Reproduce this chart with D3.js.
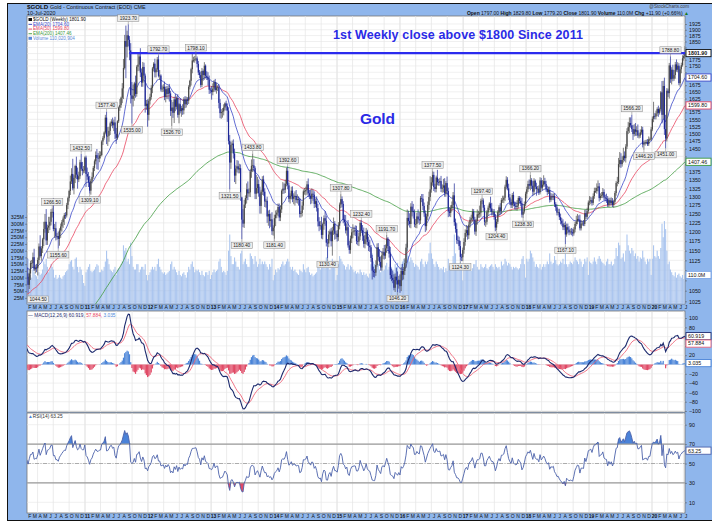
<!DOCTYPE html>
<html>
<head>
<meta charset="utf-8">
<script src="https://cdn.jsdelivr.net/npm/d3@7"></script>
<style>
  body { margin: 0; background: #fff; }
  svg text { font-family: "Liberation Sans", Arial, sans-serif; }
  .tick line { stroke: #555; }
  .domain { display: none; }
</style>
</head>
<body>
<div id="chart"></div>
<script>
const svgWidth = 712;
const svgHeight = 529;

// ---- data: weekly $GOLD, week ending Friday, starting 29 Jan 2010 ----
const firstWeek = new Date(2010, 0, 29);
const firstOpen = 1105;

// weekly closes
const closes = [
  // 2010
  1084,1064,1092,1118,1118, 1133,1102,1106,1105, 1126,1161,1136,1156,1180, 1208,1228,1177,1212, 1217,1228,1256,1256,
  1208,1210,1189,1189,1181, 1204,1215,1227,1237, 1247,1246,1276,1296, 1317,1346,1369,1325,1357, 1394,1367,1352,1362, 1406,1385,1379,1380,1421,
  // 2011
  1369,1361,1343,1318, 1348,1360,1388,1409, 1429,1420,1418,1428, 1429,1474,1486,1504,1556, 1491,1493,1510,1536, 1542,1529,1539,1500,
  1486,1543,1592,1601,1628, 1663,1742,1852,1828, 1876,1857,1813,1637,1624, 1635,1682,1642,1747, 1755,1788,1724,1685, 1746,1712,1598,1606,1566,
  // 2012
  1617,1631,1665,1740, 1759,1725,1736,1776, 1711,1712,1659,1662,1669, 1631,1660,1642,1664, 1644,1580,1592,1573, 1622,1595,1627,1566,1604,
  1579,1590,1582,1622, 1604,1622,1617,1669,1692, 1737,1772,1773,1776, 1780,1758,1724,1714, 1676,1730,1714,1751,1711, 1705,1696,1658,1656,
  // 2013
  1649,1662,1687,1657, 1667,1667,1609,1572, 1576,1578,1592,1607,1597, 1581,1476,1405,1462, 1467,1434,1364,1386,1393, 1383,1387,1298,1234,
  1223,1277,1296,1322, 1310,1313,1377,1395,1396, 1387,1309,1326,1338, 1310,1273,1315,1352, 1315,1286,1288,1243,1250, 1230,1235,1202,1212,
  // 2014
  1238,1248,1254,1270,1240, 1263,1318,1324,1321, 1339,1379,1334,1294, 1302,1318,1294,1300, 1302,1290,1293,1292,1250, 1253,1274,1316,1316,
  1320,1337,1310,1303, 1294,1309,1306,1279,1287, 1267,1229,1216,1218, 1192,1222,1238,1231,1171, 1169,1193,1201,1175, 1204,1222,1195,1195,
  // 2015
  1186,1217,1277,1293,1279, 1234,1227,1204,1213, 1164,1152,1182,1199, 1201,1204,1203,1175, 1174,1188,1225,1205,1190, 1168,1180,1201,1173,
  1163,1159,1131,1099,1095, 1094,1113,1159,1134, 1121,1107,1138,1145, 1137,1156,1182,1162,1142, 1088,1081,1076,1057, 1084,1075,1065,1076,
  // 2016
  1061,1098,1089,1098,1118, 1158,1239,1230,1222, 1271,1259,1255,1221, 1222,1243,1235,1232,1296, 1294,1273,1252,1216, 1243,1276,1299,1322,
  1343,1366,1329,1323,1358, 1344,1343,1347,1324, 1327,1334,1310,1341,1317, 1257,1253,1267,1276, 1304,1227,1208,1178, 1177,1162,1134,1133,1152,
  // 2017
  1173,1197,1205,1191, 1220,1234,1238,1257, 1234,1201,1230,1249,1249, 1254,1288,1289,1268, 1228,1228,1255,1268, 1280,1266,1256,1256,1242,
  1212,1228,1255,1269, 1258,1290,1291,1297, 1330,1351,1325,1298,1284, 1275,1305,1280,1273, 1270,1274,1296,1288, 1280,1248,1257,1278,1309,
  // 2018
  1322,1338,1333,1350, 1333,1315,1348,1330, 1323,1324,1313,1349,1327, 1336,1347,1338,1323, 1314,1320,1291,1301, 1298,1302,1278,1269,1254,
  1255,1241,1231,1223, 1213,1219,1193,1213,1206, 1199,1201,1199,1196, 1207,1222,1229,1236, 1234,1210,1223,1223,1222, 1252,1242,1258,1283,
  // 2019
  1286,1290,1282,1302, 1317,1317,1326,1331, 1296,1302,1304,1314,1298, 1295,1294,1276,1289, 1281,1288,1276,1285,1311, 1341,1344,1400,1413,
  1400,1413,1427,1419, 1457,1509,1523,1537,1529, 1516,1499,1515,1507, 1512,1494,1494,1505, 1514,1464,1468,1471,1472, 1465,1481,1481,1515,
  // 2020
  1552,1562,1560,1571,1587, 1573,1586,1648,1566, 1672,1516,1484,1654, 1645,1752,1698,1735, 1700,1714,1756,1735,1751, 1683,1737,1753,1781,
  1790,1801.9
];

// wick above the candle body ($)
const upperWick = [
  26,8,10,6,8, 12,22,8,10, 6,8,30,6,4, 20,22,36,8, 25,14,8,10,
  40,12,18,8,12, 6,8,6,6, 6,8,6,4, 4,18,18,48,8, 4,30,22,14, 8,27,22,14,4,
  6,20,14,20, 6,14,6,6, 12,20,16,14, 12,4,6,4,10, 21,30,14,6, 8,14,10,20,
  20,4,4,22,4, 20,36,26,66, 20,48,16,30,50, 42,6,30,6, 50,14,34,16, 20,17,8,14,16,
  8,12,10,6, 6,20,6,10, 17,22,5,12,10, 20,10,12,8, 16,10,28,20, 10,20,6,14,4,
  22,8,14,8, 12,10,8,6,4, 6,26,14,14, 18,8,12,10, 14,12,6,14,5, 18,20,16,8,
  16,20,8,12, 18,8,12,14, 10,12,12,4,10, 10,12,20,10, 10,14,16,10,20, 18,14,12,2,
  30,14,8,18, 24,12,8,20,38, 20,6,40,22, 14,20,6,10, 12,10,6,12,10, 12,16,20,6,
  10,12,8,10,10, 12,4,20,16, 12,10,14,8, 8,12,13,10, 14,18,14,8,4, 6,12,6,10,
  10,10,18,10, 18,16,12,10,8, 14,12,12,12, 24,4,8,20,14, 10,10,6,10, 10,18,8,8,
  10,10,6,15,8, 8,14,20,10, 20,12,8,10, 20,10,14,14, 30,10,6,7,14, 22,12,10,5,
  14,16,6,8,10, 8,12,10,11, 20,14,10,12, 20,10,10,4,18, 18,16,18,14, 8,22,22,10,
  14,10,18,10,12, 10,24,20,22, 10,16,20,8, 14,10,20,20,6, 12,14,10,8, 8,10,16,40,
  16,12,10,10,6, 24,10,10,16, 10,20,22,6,20, 10,12,8,10, 10,36,10,16, 12,10,14,8,6,
  10,10,14,12, 8,8,10,8, 7,8,6,14,10, 20,6,8,6, 8,6,6,6, 4,20,16,8,8,
  8,8,6,6, 12,6,12,6, 6,11,8,14,10, 8,6,10,6, 12,16,6,6, 12,16,6,8,6,
  8,10,14,16, 6,14,8,4, 12,8,10,10,8, 14,18,10,10, 10,10,10,10, 8,8,8,6,8,
  10,10,10,8, 12,6,10,10,10, 10,8,10,10, 6,6,16,14, 10,14,10,8,10, 10,10,10,6,
  16,10,8,8, 10,10,14,18, 10,8,10,12,8, 8,14,8,8, 8,10,8,6,6, 6,16,20,26,
  22,12,26,14, 8,10,18,20,20, 38,14,18,22, 14,20,8,10, 12,10,8,8,8, 10,10,6,8,
  8,51,10,10,6, 12,6,5,43, 20,32,50,10, 8,10,37,10, 20,20,10,20,14, 10,10,10,12,
  10,28
];

// wick below the candle body ($)
const lowerWick = [
  6,20,10,16,12, 12,4,10,10, 18,10,4,12,12, 18,10,12,12, 15,12,10,16,
  6,24,12,10,26, 18,20,14,16, 18,10,6,12, 10,12,8,6,18, 16,14,28,8, 8,6,14,8,8,
  40,10,14,10, 12,8,6,10, 10,36,36,12, 10,4,12,6,6, 26,32,20,14, 10,10,20,18,
  20,6,6,12,10, 20,40,6,126, 44,28,40,30,89, 28,18,14,10, 18,24,18,16, 16,12,24,14,42,
  20,14,10,20, 12,20,20,10, 6,16,8,10,12, 12,20,18,20, 30,18,53,18, 36,16,10,10,30,
  8,20,16,14, 14,12,16,12,10, 18,16,8,10, 6,14,10,12, 10,8,22,18,10, 10,22,16,12,
  28,12,12,6, 14,14,20,18, 20,20,14,10,16, 40,12,84,20, 20,16,20,26,12, 12,12,10,54,
  10,12,10,16, 20,10,14,20,20, 10,16,16,16, 10,22,22,10, 12,16,18,18,26, 20,16,10,12,
  31,22,10,10,10, 10,10,10,12, 10,8,12,10, 14,10,10,16, 26,8,10,18,10, 10,10,12,10,
  12,14,10,10, 16,14,18,12,10, 10,14,14,10, 10,12,16,14,10, 39,10,16,14, 38,12,16,14,
  12,10,10,10,10, 10,10,8,14, 6,10,10,12, 16,10,14,8, 10,12,10,8,14, 10,12,14,10,
  14,12,10,22,12, 12,8,4,10, 10,8,8,10, 10,8,12,10,10, 10,8,8,6, 10,10,19,10,
  16,12,14,12,10, 12,10,12,10, 12,16,18,8, 10,12,10,12,10, 10,12,10,16, 12,10,14,12,
  10,10,12,10,10, 10,10,10,10, 12,14,10,10,10, 16,10,12,10, 10,10,10,10, 10,10,10,10,10,
  10,10,10,12, 10,8,10,10, 10,8,12,10,10, 10,12,10,10, 10,14,8,10, 8,10,10,10,8,
  10,8,6,10, 10,8,8,10, 10,8,6,8,8, 8,8,8,10, 8,10,8,8, 8,8,10,6,6,
  14,8,10,14, 10,12,10,8, 20,10,8,6,6, 8,6,8,8, 10,6,8,6, 8,8,8,10,8,
  8,8,10,6, 8,8,26,6,10, 8,6,8,8, 6,8,6,8, 6,6,6,6,6, 6,6,6,6,
  8,8,8,6, 8,6,8,10, 10,6,6,8,8, 8,12,6,6, 6,6,6,8,6, 8,10,6,10,
  12,8,8,10, 14,8,10,20,8, 10,20,8,14, 14,8,10,8, 8,10,18,8,6, 6,6,6,4,
  6,12,10,10,10, 14,6,8,30, 16,20,33,10, 14,20,14,20, 10,8,14,8,10, 8,14,16,6,
  10,11
];

// weekly volume (millions)
const volumeM = [
  150,170,120,110,100, 130,120,110,105, 95,120,110,115,130, 160,150,170,140, 120,130,150,140,
  130,100,110,95,100, 110,100,95,105, 110,120,125,130, 150,160,165,140,130, 170,175,140,120, 140,130,110,80,70,
  120,130,140,150, 125,120,125,130, 140,150,145,120, 120,130,125,140,160, 200,170,150,130, 125,120,130,140,
  110,130,135,140,150, 160,220,200,210, 160,170,150,230,180, 140,130,130,150, 150,120,130,140, 140,130,150,110,90,
  110,120,130,140, 130,140,125,150, 170,140,130,120,115, 120,110,115,120, 125,150,160,130, 140,130,120,110,125,
  110,105,115,120, 110,100,120,140,130, 150,160,140,120, 130,125,130,120, 110,125,110,105,120, 120,110,125,95,
  110,120,130,120, 125,130,160,170, 140,120,125,120,110, 125,200,260,180, 150,150,175,160,140, 140,130,190,200,
  150,160,170,150, 140,140,190,180,170, 150,180,160,140, 150,170,150,160, 150,160,150,140,130, 150,140,170,90,
  110,130,120,135,130, 140,150,160,145, 150,160,170,160, 140,130,140,125, 130,120,115,110,130, 125,120,150,130,
  120,135,140,120, 110,115,105,110,115, 120,150,140,130, 160,155,140,135,175, 210,150,130,150, 170,150,145,90,
  110,150,180,170,160, 150,145,130,140, 150,130,145,140, 130,120,125,115, 120,115,130,120,110, 120,110,115,105,
  100,115,150,190,160, 150,145,160,150, 130,120,140,125, 130,145,155,130,140, 150,140,130,120, 150,140,155,95,
  110,150,160,170,165, 190,230,180,160, 175,165,155,140, 150,145,140,130,160, 170,150,140,160, 150,160,190,230,
  190,170,150,140,160, 150,140,130,135, 130,140,120,135,125, 170,145,140,130, 180,260,190,150, 140,150,160,130,90,
  140,150,135,130, 140,130,125,135, 150,150,165,140,130, 130,150,140,135, 140,150,135,130, 140,145,150,140,130,
  150,140,135,140, 130,160,145,150, 170,160,145,155,150, 140,130,140,135, 140,135,130,135, 150,170,180,150,100,
  170,160,170,200, 190,175,160,140, 150,140,135,150,130, 140,150,140,150, 160,150,190,160, 150,155,180,165,150,
  145,150,160,155, 170,150,210,150,140, 150,160,155,150, 160,175,165,160, 150,170,160,140,150, 170,160,175,110,
  160,155,150,160, 175,160,150,170, 180,170,160,155,150, 145,160,170,150, 150,160,145,150,170, 210,180,230,220,
  170,175,190,160, 200,260,220,200,190, 210,200,180,190, 170,180,160,175, 170,200,175,160,150, 170,160,170,110,
  170,220,180,175,200, 180,170,210,300, 250,310,280,200, 150,160,130,120, 110,105,120,100,110, 115,105,100,110,
  95,110
];

// swing-point price labels: week, value, above (h) or below (l)
const swingLabels = [
  ["2010-02-05", 1044.50, "l"], ["2010-06-25", 1266.50, "h"], ["2010-07-30", 1155.60, "l"],
  ["2010-12-10", 1432.50, "h"], ["2011-01-28", 1309.10, "l"], ["2011-05-06", 1577.40, "h"],
  ["2011-09-09", 1923.70, "h"], ["2011-09-30", 1535.00, "l"], ["2012-03-02", 1792.70, "h"],
  ["2012-05-18", 1526.70, "l"], ["2012-10-05", 1798.10, "h"], ["2013-04-19", 1321.50, "l"],
  ["2013-06-28", 1180.40, "l"], ["2013-08-30", 1433.80, "h"], ["2014-01-03", 1181.40, "l"],
  ["2014-03-21", 1392.60, "h"], ["2014-11-07", 1130.40, "l"], ["2015-01-23", 1307.80, "h"],
  ["2015-05-22", 1232.40, "h"], ["2015-10-16", 1191.70, "h"], ["2015-12-18", 1046.20, "l"],
  ["2016-07-08", 1377.50, "h"], ["2016-12-16", 1124.30, "l"], ["2017-04-21", 1297.40, "h"],
  ["2017-07-14", 1204.40, "l"], ["2017-12-15", 1238.30, "l"], ["2018-01-26", 1366.20, "h"],
  ["2018-08-17", 1167.10, "l"], ["2019-09-06", 1566.20, "h"], ["2019-11-15", 1446.20, "l"],
  ["2020-03-20", 1451.00, "l"], ["2020-04-17", 1788.80, "h"]
];

// indicator state carried in from before the first visible week
const emaSeed = {e20: 1110, e50: 1040, e200: 820, e12: 1118, e26: 1078, signal: 45};
const rsiSeed = {gain: 10, loss: 7};

// tick values
const priceTicks = d3.range(1025, 1926, 25);
const volumeTicks = d3.range(25, 326, 25);
const macdTicks = d3.range(-100, 101, 20);
const rsiTicks = [10, 30, 50, 70, 90];
const monthLetters = "JFMAMJJASOND";

// ---- build weekly rows ----
const n = d3.min([closes.length, upperWick.length, lowerWick.length, volumeM.length]);
const weeks = d3.range(n).map(i => {
  const open = i === 0 ? firstOpen : closes[i - 1];
  const close = closes[i];
  return {
    date: d3.timeDay.offset(firstWeek, 7 * i),
    open, close,
    high: Math.max(open, close) + upperWick[i],
    low: Math.min(open, close) - lowerWick[i],
    vol: volumeM[i]
  };
});
const parseDay = d3.timeParse("%Y-%m-%d");
const weekIndex = date => Math.round((date - firstWeek) / (7 * 864e5));
swingLabels.forEach(([ds, v, side]) => {
  const w = weeks[weekIndex(parseDay(ds))];
  if (!w) return;
  if (side === "h") w.high = v; else w.low = v;
});

function ema(values, len, seed) {
  const k = 2 / (len + 1);
  let e = seed;
  return values.map(v => (e = v * k + e * (1 - k)));
}
const cl = weeks.map(d => d.close);
const ema20 = ema(cl, 20, emaSeed.e20);
const ema50 = ema(cl, 50, emaSeed.e50);
const ema200 = ema(cl, 200, emaSeed.e200);
const ema12 = ema(cl, 12, emaSeed.e12);
const ema26 = ema(cl, 26, emaSeed.e26);
const macd = ema12.map((v, i) => v - ema26[i]);
const signal = ema(macd, 9, emaSeed.signal);
const hist = macd.map((v, i) => v - signal[i]);

let ag = rsiSeed.gain, al = rsiSeed.loss;
const rsi = weeks.map((d, i) => {
  const ch = d.close - (i === 0 ? firstOpen : weeks[i - 1].close);
  ag = (ag * 13 + Math.max(ch, 0)) / 14;
  al = (al * 13 + Math.max(-ch, 0)) / 14;
  return 100 - 100 / (1 + ag / al);
});

// ---- layout ----
const left = 27, right = 685;
const pricePanel = {top: 16, bottom: 304};
const macdPanel = {top: 311, bottom: 412};
const rsiPanel = {top: 413, bottom: 513};
const blueBg = "#8fb6ec";

const x = d3.scaleTime()
  .domain([new Date(2011, 0, 1), new Date(2020, 0, 1)])
  .range([85, 652]);
const yPrice = d3.scaleLog().domain([1050, 1925]).range([290.7, 24]);
const yVol = d3.scaleLinear().domain([0, 325]).range([304.6, 217]);
const yMacd = d3.scaleLinear().domain([-100, 100]).range([411, 318]);
const yRsi = d3.scaleLinear().domain([0, 100]).range([512, 415]);

const svg = d3.select("#chart")
  .append("svg")
  .attr("width", svgWidth)
  .attr("height", svgHeight);

// blue frame
svg.append("rect").attr("x", 7.5).attr("y", 3.5).attr("width", 710).attr("height", 517)
  .attr("fill", blueBg).attr("stroke", "#111").attr("stroke-width", 1);

const defs = svg.append("defs");
function panel(p, id) {
  defs.append("clipPath").attr("id", id).append("rect")
    .attr("x", left).attr("y", p.top).attr("width", right - left).attr("height", p.bottom - p.top);
  svg.append("rect").attr("x", left).attr("y", p.top)
    .attr("width", right - left).attr("height", p.bottom - p.top)
    .attr("fill", "#fff").attr("stroke", "#777").attr("stroke-width", 0.8);
  return svg.append("g").attr("clip-path", `url(#${id})`);
}
const priceG = panel(pricePanel, "clipPrice");
const macdG = panel(macdPanel, "clipMacd");
const rsiG = panel(rsiPanel, "clipRsi");

// vertical grid (quarterly) in every panel
const quarters = d3.timeMonth.every(3).range(new Date(2010, 0, 1), new Date(2020, 7, 1));
[[priceG, pricePanel], [macdG, macdPanel], [rsiG, rsiPanel]].forEach(([g, p]) => {
  g.selectAll("line.vg").data(quarters).join("line")
    .attr("x1", d => x(d)).attr("x2", d => x(d))
    .attr("y1", p.top).attr("y2", p.bottom)
    .attr("stroke", d => d.getMonth() === 0 ? "#cfcfcf" : "#e4e4e4").attr("stroke-width", 0.7);
});

// horizontal grids
priceG.selectAll("line.hg").data(priceTicks).join("line")
  .attr("x1", left).attr("x2", right).attr("y1", d => yPrice(d)).attr("y2", d => yPrice(d))
  .attr("stroke", "#e6e6e6").attr("stroke-width", 0.6);
macdG.selectAll("line.hg").data(macdTicks).join("line")
  .attr("x1", left).attr("x2", right).attr("y1", d => yMacd(d)).attr("y2", d => yMacd(d))
  .attr("stroke", "#e6e6e6").attr("stroke-width", 0.6);
rsiG.selectAll("line.hg").data(rsiTicks).join("line")
  .attr("x1", left).attr("x2", right).attr("y1", d => yRsi(d)).attr("y2", d => yRsi(d))
  .attr("stroke", "#e6e6e6").attr("stroke-width", 0.6);

// volume
priceG.selectAll("rect.vol").data(weeks).join("rect")
  .attr("x", d => x(d.date) - 0.55).attr("width", 1.1)
  .attr("y", d => yVol(d.vol)).attr("height", d => yVol(0) - yVol(d.vol))
  .attr("fill", "#9dbcec").attr("opacity", 0.85);

// EMAs
const emaLine = arr => d3.line().x((d, i) => x(weeks[i].date)).y(d => yPrice(d))(arr);
[[ema200, "#3d9a3d"], [ema50, "#e8455f"], [ema20, "#3a48c8"]].forEach(([arr, c]) => {
  priceG.append("path").attr("d", emaLine(arr)).attr("fill", "none")
    .attr("stroke", c).attr("stroke-width", 0.8);
});

// candles
const upColor = "#474747", downColor = "#1d2796";
priceG.selectAll("line.wick").data(weeks).join("line")
  .attr("x1", d => x(d.date)).attr("x2", d => x(d.date))
  .attr("y1", d => yPrice(d.high)).attr("y2", d => yPrice(d.low))
  .attr("stroke", d => d.close >= d.open ? upColor : downColor).attr("stroke-width", 0.7);
priceG.selectAll("rect.body").data(weeks).join("rect")
  .attr("x", d => x(d.date) - 0.6).attr("width", 1.2)
  .attr("y", d => yPrice(Math.max(d.open, d.close)))
  .attr("height", d => Math.max(0.7, Math.abs(yPrice(d.open) - yPrice(d.close))))
  .attr("fill", d => d.close >= d.open ? upColor : downColor);

// $1800 line
priceG.append("line")
  .attr("x1", x(new Date(2011, 8, 14))).attr("x2", right)
  .attr("y1", yPrice(1801.9)).attr("y2", yPrice(1801.9))
  .attr("stroke", "#2b2bee").attr("stroke-width", 2.2);

// swing labels
const lbl = svg.append("g");
swingLabels.forEach(([ds, v, side]) => {
  const px = x(parseDay(ds));
  const yy = yPrice(v);
  const t = v.toFixed(2);
  const w = t.length * 2.6 + 3, h = 6.5;
  const cx = Math.max(px, left + w / 2 + 0.5);
  const top = side === "h" ? yy - 3 - h : yy + 3;
  lbl.append("line").attr("x1", px).attr("x2", px)
    .attr("y1", yy).attr("y2", side === "h" ? top + h : top).attr("stroke", "#777").attr("stroke-width", 0.5);
  lbl.append("rect").attr("x", cx - w / 2).attr("y", top).attr("width", w).attr("height", h)
    .attr("fill", "#ececec").attr("stroke", "#888").attr("stroke-width", 0.5);
  lbl.append("text").attr("x", cx).attr("y", top + h - 1.5).attr("text-anchor", "middle")
    .attr("font-size", 4.8).attr("fill", "#222").text(t);
});

// annotations
svg.append("text").attr("x", 333).attr("y", 39).attr("textLength", 250)
  .attr("font-size", 12.5).attr("font-weight", "bold").attr("fill", "#2a2ae6")
  .text("1st Weekly close above $1800 Since 2011");
svg.append("text").attr("x", 360).attr("y", 124).attr("textLength", 35)
  .attr("font-size", 15.5).attr("font-weight", "bold").attr("fill", "#2a2ae6")
  .text("Gold");

// MACD
macdG.selectAll("rect.h").data(weeks).join("rect")
  .attr("x", d => x(d.date) - 0.6).attr("width", 1.2)
  .attr("y", (d, i) => Math.min(yMacd(0), yMacd(hist[i])))
  .attr("height", (d, i) => Math.abs(yMacd(hist[i]) - yMacd(0)))
  .attr("fill", (d, i) => hist[i] >= 0 ? "#4a84d8" : "#e04a66");
const macdLine = arr => d3.line().x((d, i) => x(weeks[i].date)).y(d => yMacd(d))(arr);
macdG.append("path").attr("d", macdLine(signal)).attr("fill", "none").attr("stroke", "#ee6478").attr("stroke-width", 0.9);
macdG.append("path").attr("d", macdLine(macd)).attr("fill", "none").attr("stroke", "#1c2a6e").attr("stroke-width", 1.1);

// RSI
rsiG.append("path")
  .attr("d", d3.area().x((d, i) => x(weeks[i].date)).y0(yRsi(70)).y1(d => yRsi(Math.max(d, 70)))(rsi))
  .attr("fill", "#4a82d8");
rsiG.append("path")
  .attr("d", d3.area().x((d, i) => x(weeks[i].date)).y0(yRsi(30)).y1(d => yRsi(Math.min(d, 30)))(rsi))
  .attr("fill", "#e04a66");
[70, 30].forEach(v => rsiG.append("line").attr("x1", left).attr("x2", right)
  .attr("y1", yRsi(v)).attr("y2", yRsi(v)).attr("stroke", "#9a9a9a").attr("stroke-width", 1.4));
rsiG.append("line").attr("x1", left).attr("x2", right).attr("y1", yRsi(50)).attr("y2", yRsi(50))
  .attr("stroke", "#9a9a9a").attr("stroke-width", 0.8).attr("stroke-dasharray", "4,1.5,1,1.5");
rsiG.append("path").attr("d", d3.line().x((d, i) => x(weeks[i].date)).y(d => yRsi(d))(rsi))
  .attr("fill", "none").attr("stroke", "#4c62aa").attr("stroke-width", 0.9);

// ---- right-axis value tags (positions first, so tick labels can give way) ----
const tags = [
  {y: yPrice(1801.9), text: "1801.90", color: "#111", bold: true},
  {y: yPrice(1704.6), text: "1704.60", color: "#3a48c8"},
  {y: yPrice(1599.8), text: "1599.80", color: "#e8455f"},
  {y: yPrice(1407.46), text: "1407.46", color: "#3d9a3d"},
  {y: yVol(110), text: "110.0M", color: "#7ea6e6"},
  {y: yMacd(60.919), text: "60.919", color: "#1c2a6e"},
  {y: yMacd(60.919) + 7.4, text: "57.884", color: "#ee6478"},
  {y: yMacd(3.035), text: "3.035", color: "#4a84d8"},
  {y: yRsi(63.25), text: "63.25", color: "#4c62aa"}
];

// ---- axes ----
function styleAxis(g, size) {
  g.selectAll("text").attr("font-size", size).attr("fill", "#111");
  g.selectAll(".tick line").attr("stroke", "#444").attr("stroke-width", 0.5);
}
function clearTags(g, scale) {
  g.selectAll(".tick text").attr("display", d =>
    tags.some(t => Math.abs(scale(d) - t.y) < 6) ? "none" : null);
}
svg.append("g").attr("transform", `translate(${right},0)`)
  .call(d3.axisRight(yPrice).tickValues(priceTicks).tickFormat(d3.format("d")).tickSize(2).tickPadding(2))
  .call(g => { styleAxis(g, 5.3); clearTags(g, yPrice); });
svg.append("g").attr("transform", `translate(${left},0)`)
  .call(d3.axisLeft(yVol).tickValues(volumeTicks).tickFormat(d => d + "M").tickSize(2).tickPadding(1))
  .call(g => styleAxis(g, 5.3));
svg.append("g").attr("transform", `translate(${right},0)`)
  .call(d3.axisRight(yMacd).tickValues(macdTicks).tickFormat(d3.format("d")).tickSize(2).tickPadding(2))
  .call(g => { styleAxis(g, 5.3); clearTags(g, yMacd); });
svg.append("g").attr("transform", `translate(${right},0)`)
  .call(d3.axisRight(yRsi).tickValues(rsiTicks).tickFormat(d3.format("d")).tickSize(2).tickPadding(2))
  .call(g => { styleAxis(g, 5.3); clearTags(g, yRsi); });

const months = d3.timeMonth.range(new Date(2010, 1, 1), new Date(2020, 7, 1));
const monthAxis = d3.axisBottom(x).tickValues(months).tickSize(0).tickPadding(0)
  .tickFormat(d => d.getMonth() === 0 ? String(d.getFullYear()).slice(2) : monthLetters[d.getMonth()]);
[pricePanel.bottom + 1, rsiPanel.bottom + 1].forEach(yy => {
  svg.append("g").attr("transform", `translate(2,${yy})`).call(monthAxis)
    .call(g => {
      styleAxis(g, 5);
      g.selectAll(".tick text").attr("dy", "0.75em")
        .attr("font-weight", d => d.getMonth() === 0 ? "bold" : "normal");
    });
});

tags.forEach(t => {
  const g = svg.append("g");
  g.append("rect").attr("x", 686).attr("y", t.y - 3.6).attr("width", 25).attr("height", 7.2)
    .attr("fill", "#fff").attr("stroke", t.color).attr("stroke-width", 0.9);
  g.append("text").attr("x", 688).attr("y", t.y + 1.9).attr("font-size", 5.3)
    .attr("font-weight", t.bold ? "bold" : "normal").attr("fill", "#111").text(t.text);
});

// ---- header ----
const hdr = svg.append("g").attr("font-size", 5.4).attr("fill", "#111");
hdr.append("text").attr("x", 27).attr("y", 9.2)
  .call(t => {
    t.append("tspan").attr("font-weight", "bold").attr("font-size", 6.2).text("$GOLD ");
    t.append("tspan").text("Gold - Continuous Contract (EOD) CME");
  });
hdr.append("text").attr("x", 27).attr("y", 15).text("10-Jul-2020");
hdr.append("text").attr("x", 689).attr("y", 8).attr("text-anchor", "end")
  .attr("font-size", 4.6).attr("fill", "#444").text("@StockCharts.com");
hdr.append("text").attr("x", 689).attr("y", 15).attr("text-anchor", "end").attr("font-size", 5)
  .call(t => {
    [["Open", " 1797.00 "], ["High", " 1829.80 "], ["Low", " 1779.20 "], ["Close", " 1801.90 "],
     ["Volume", " 110.0M "], ["Chg", " +11.90 (+0.66%) "]].forEach(([k, v]) => {
      t.append("tspan").attr("font-weight", "bold").text(k);
      t.append("tspan").text(v);
    });
    t.append("tspan").attr("fill", "#1a7a1a").text("▲");
  });

// price legend
const legend = [
  ["$GOLD (Weekly) 1801.90", "#111"],
  ["EMA(20) 1704.60", "#3a48c8"],
  ["EMA(50) 1599.80", "#e8455f"],
  ["EMA(200) 1407.46", "#3d9a3d"],
  ["Volume 110,020,904", "#5a8ad8"]
];
const lg = svg.append("g");
legend.forEach(([t, c], i) => {
  const yy = 21 + i * 4.7;
  const block = i === 0 || i === 4;
  lg.append("rect").attr("x", 28.5).attr("y", block ? yy - 3 : yy - 1.8)
    .attr("width", 3.5).attr("height", block ? 3 : 0.9).attr("fill", c);
  lg.append("text").attr("x", 33).attr("y", yy).attr("font-size", 4.6).attr("fill", c).text(t);
});

// MACD legend
svg.append("text").attr("x", 28).attr("y", macdPanel.top + 5.5).attr("font-size", 4.8)
  .call(t => {
    t.append("tspan").attr("fill", "#1c2a6e").text("— MACD(12,26,9) 60.919, ");
    t.append("tspan").attr("fill", "#e8455f").text("57.884, ");
    t.append("tspan").attr("fill", "#4a84d8").text("3.035");
  });
// RSI legend
svg.append("text").attr("x", 28).attr("y", rsiPanel.top + 5).attr("font-size", 4.8)
  .call(t => {
    t.append("tspan").attr("fill", "#4a82d8").text("▲");
    t.append("tspan").attr("fill", "#333").text("RSI(14) 63.25");
  });
</script>
</body>
</html>
